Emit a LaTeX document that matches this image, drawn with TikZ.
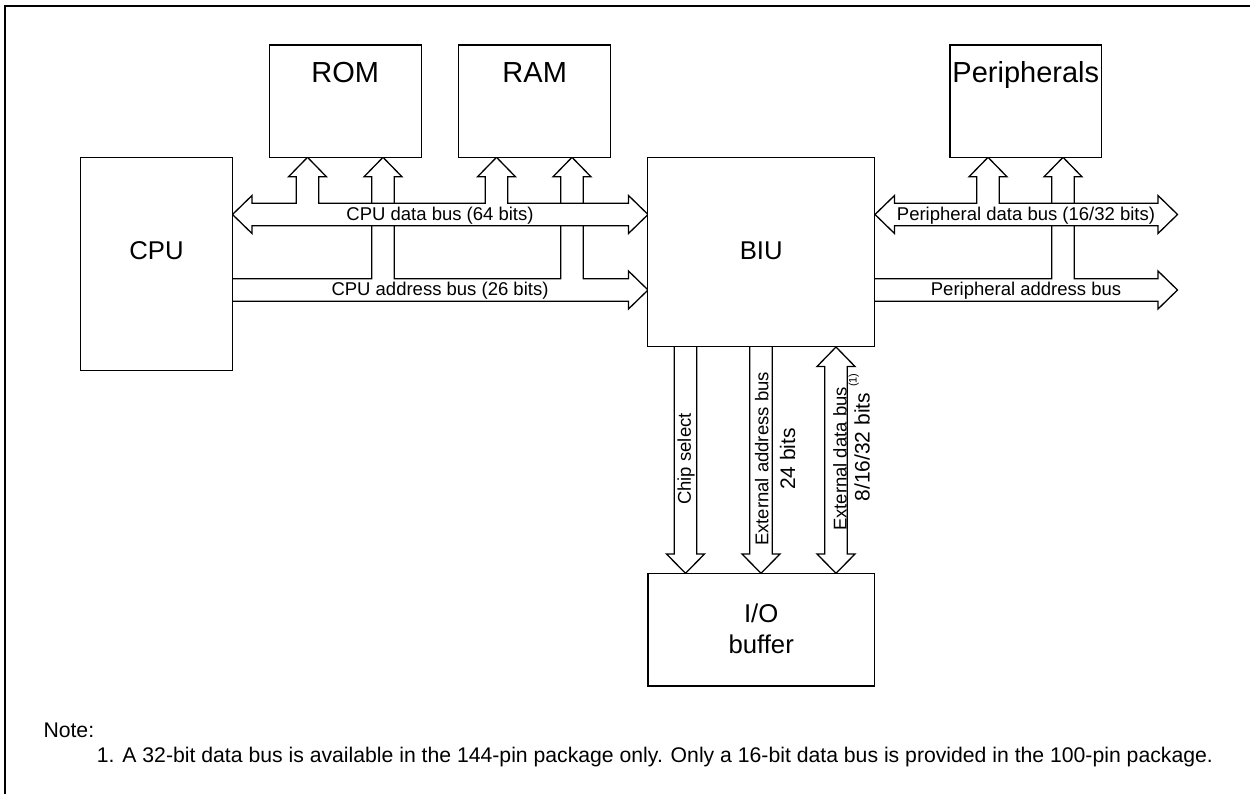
\documentclass[tikz,border=0pt]{standalone}
\usepackage{fontspec}
\setmainfont{Liberation Sans}
\newcommand\ubr[3]{-- ({#1-11.3},#2) -- ({#1-11.3},{#3+19.5}) -- ({#1-19},{#3+19.5}) -- (#1,#3) -- ({#1+19},{#3+19.5}) -- ({#1+11.3},{#3+19.5}) -- ({#1+11.3},#2)}
\tikzset{
  box/.style={draw, line width=1.3pt, fill=white, inner sep=0pt},
  bus/.style={draw, line width=1.3pt, fill=white, line join=miter},
  big/.style={font=\fontsize{25.7}{30}\selectfont, inner sep=0pt, anchor=base},
  bigtop/.style={font=\fontsize{29}{34}\selectfont, inner sep=0pt, anchor=base},
  buslbl/.style={font=\fontsize{18.5}{22}\selectfont, inner sep=0pt, anchor=base},
  vlbl/.style={font=\fontsize{18.5}{22}\selectfont, inner sep=0pt, anchor=base, rotate=90},
  vlblb/.style={font=\fontsize{21}{25}\selectfont, inner sep=0pt, anchor=base, rotate=90},
  note/.style={font=\fontsize{21.2}{25}\selectfont, inner sep=0pt, anchor=base west},
}
\begin{document}
\begin{tikzpicture}[x=1pt,y=-1pt]
\useasboundingbox (0,0) rectangle (1250,794);
% frame
\draw[line width=2pt] (5,794) -- (5,6.3) -- (1250,6.3);
% CPU address bus with branches to ROM and RAM
\filldraw[bus] (232.5,278.7) \ubr{383}{278.7}{157.3} \ubr{572}{278.7}{157.3} -- (628.5,278.7) -- (628.5,271) -- (648,290) -- (628.5,309) -- (628.5,301.3) -- (232.5,301.3);
% CPU data bus with branches to ROM and RAM
\filldraw[bus] (232.5,214.5) -- (252,195.5) -- (252,203.2) \ubr{307.5}{203.2}{157.3} \ubr{496.5}{203.2}{157.3} -- (628.5,203.2) -- (628.5,195.5) -- (648,214.5) -- (628.5,233.5) -- (628.5,225.8) -- (252,225.8) -- (252,233.5) -- cycle;
% Peripheral address bus
\filldraw[bus] (875,278.7) \ubr{1063}{278.7}{157.3} -- (1158,278.7) -- (1158,271) -- (1177.5,290) -- (1158,309) -- (1158,301.3) -- (875,301.3);
% Peripheral data bus
\filldraw[bus] (875,214.5) -- (894.5,195.5) -- (894.5,203.2) \ubr{988}{203.2}{157.3} -- (1158,203.2) -- (1158,195.5) -- (1177.5,214.5) -- (1158,233.5) -- (1158,225.8) -- (894.5,225.8) -- (894.5,233.5) -- cycle;
% Chip select
\filldraw[bus] (674.3,347) -- (674.3,554) -- (666.5,554) -- (685.5,573.3) -- (704.5,554) -- (696.7,554) -- (696.7,347);
% External address bus
\filldraw[bus] (749.8,347) -- (749.8,554) -- (742,554) -- (761,573.3) -- (780,554) -- (772.2,554) -- (772.2,347);
% External data bus
\filldraw[bus] (836,347) -- (855,366.5) -- (847.2,366.5) -- (847.2,554) -- (855,554) -- (836,573.3) -- (817,554) -- (824.8,554) -- (824.8,366.5) -- (817,366.5) -- cycle;
% boxes
\node[box, minimum width=151.6pt, minimum height=212.3pt] (cpu) at (156.5,264) {};
\node[box, minimum width=227pt, minimum height=189pt] (biu) at (761.2,252.2) {};
\node[box, minimum width=152pt, minimum height=112.3pt] (rom) at (345.3,101.2) {};
\node[box, minimum width=152pt, minimum height=112.3pt] (ram) at (534.7,101.2) {};
\node[box, minimum width=151.7pt, minimum height=112.3pt] (per) at (1025.8,101.2) {};
\node[box, minimum width=226.3pt, minimum height=112.7pt] (io) at (761.2,629.7) {};
% box labels
\node[big] (tcpu) at (156.5,260) {CPU};
\node[big] (tbiu) at (761.2,260) {BIU};
\node[bigtop] (trom) at (345.3,83) {ROM};
\node[bigtop] (tram) at (534.7,83) {RAM};
\node[bigtop] (tper) at (1025.8,83) {Peripherals};
\node[big] (tio1) at (761.2,622.7) {I/O};
\node[big] (tio2) at (761.2,653) {buffer};
% bus labels
\node[buslbl] (l1) at (440,220.3) {CPU data bus (64 bits)};
\node[buslbl] (l2) at (440,296) {CPU address bus (26 bits)};
\node[buslbl] (l3) at (1026,220.3) {Peripheral data bus (16/32 bits)};
\node[buslbl] (l4) at (1026,296) {Peripheral address bus};
\node[vlbl] (l5) at (690.8,459) {Chip select};
\node[vlbl] (l6) at (768.3,459) {External address bus};
\node[vlblb] (l7) at (795,459) {24 bits};
\node[vlbl] (l8) at (846.5,459) {External data bus};
\node[vlblb, anchor=base west] (l9) at (869.5,501.7) {8/16/32 bits\hspace{6pt}\raisebox{13pt}{\fontsize{11}{13}\selectfont (1)}};
% note
\node[note] (n1) at (43.3,737) {Note:};
\node[note] (n2) at (96.7,762) {1. A 32-bit data bus is available in the 144-pin package only. Only a 16-bit data bus is provided in the 100-pin package.};
\end{tikzpicture}
\end{document}
